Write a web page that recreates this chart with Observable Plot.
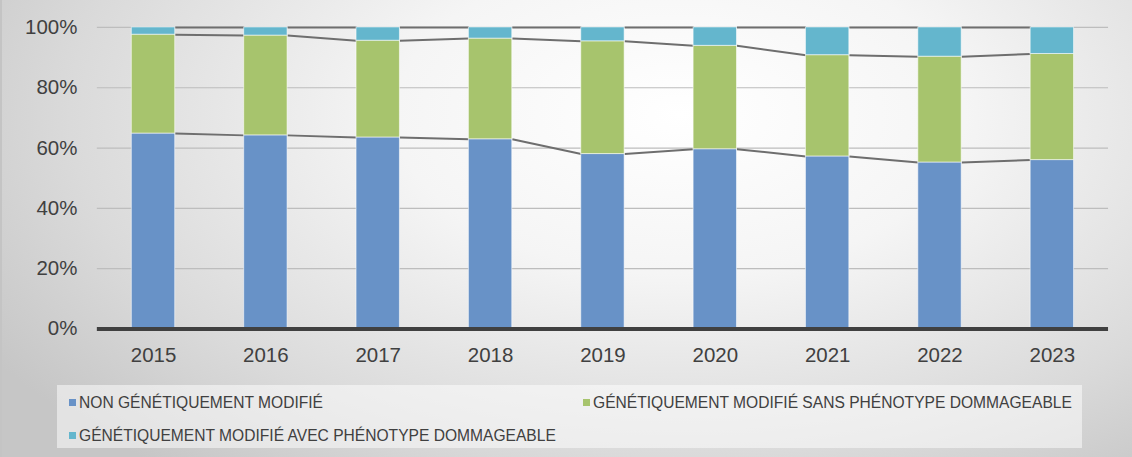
<!DOCTYPE html>
<html>
<head>
<meta charset="utf-8">
<script src="https://cdn.jsdelivr.net/npm/d3@7"></script>
<script src="https://cdn.jsdelivr.net/npm/@observablehq/plot@0.6"></script>
<style>
  html, body { margin: 0; padding: 0; }
  #wrap {
    position: relative; width: 1132px; height: 457px; overflow: hidden;
    background: radial-gradient(ellipse 72% 100% at 60% 25%, #ffffff 0%, #f5f5f5 35%, #dadada 75%, #c6c6c6 100%);
    font-family: "Liberation Sans", Arial, sans-serif;
    box-sizing: border-box; border-left: 2px solid #c4c4c4;
  }
  #chart { position: absolute; left: 0; top: 0; }
  #legend {
    position: absolute; left: 55px; top: 385px; width: 1025px; height: 63px;
    background: rgba(255,255,255,0.5);
  }
  .item { position: absolute; font-size: 15.6px; color: #404040; white-space: nowrap; line-height: 18px; }
  .sw { display: inline-block; width: 7px; height: 7px; margin-right: 3px; vertical-align: 2px; }
</style>
</head>
<body>
<div id="wrap">
  <div id="chart"></div>
  <div id="legend"></div>
</div>
<script>
const years = [2015, 2016, 2017, 2018, 2019, 2020, 2021, 2022, 2023];
const seriesNames = [
  "NON GÉNÉTIQUEMENT MODIFIÉ",
  "GÉNÉTIQUEMENT MODIFIÉ SANS PHÉNOTYPE DOMMAGEABLE",
  "GÉNÉTIQUEMENT MODIFIÉ AVEC PHÉNOTYPE DOMMAGEABLE"
];
const nonGM = [64.8, 64.2, 63.5, 62.9, 58.0, 59.6, 57.2, 55.2, 56.0];
const gmSans = [32.8, 33.1, 32.1, 33.4, 37.4, 34.3, 33.6, 35.1, 35.2];
const gmAvec = [2.4, 2.7, 4.4, 3.7, 4.6, 6.1, 9.2, 9.7, 8.8];
const colors = ["#6892c7", "#a7c46d", "#64b6cd"];
const yTicks = [0, 20, 40, 60, 80, 100];

const half = 0.193;
const seriesVals = [nonGM, gmSans, gmAvec];
const rects = [];
const bounds = [[], [], []];
years.forEach((yr, i) => {
  let base = 0;
  seriesVals.forEach((vals, s) => {
    rects.push({year: yr, series: seriesNames[s], y1: base, y2: base + vals[i]});
    base += vals[i];
    bounds[s].push(base);
  });
});
const links = [];
for (let s = 0; s < 3; s++) {
  for (let i = 0; i < years.length - 1; i++) {
    links.push({x1: years[i] + half, x2: years[i + 1] - half, y1: bounds[s][i], y2: bounds[s][i + 1]});
  }
}

const plot = Plot.plot({
  width: 1132, height: 375,
  marginLeft: 95, marginRight: 24, marginTop: 27, marginBottom: 46,
  style: {background: "transparent", fontFamily: "'Liberation Sans', Arial, sans-serif", fontSize: "20.5px", color: "#404040"},
  x: {domain: [2014.5, 2023.5], axis: null},
  y: {domain: [0, 100], axis: null},
  color: {domain: seriesNames, range: colors},
  marks: [
    Plot.ruleY(yTicks.filter(d => d > 0), {stroke: "#bdbdbd", strokeWidth: 1.2}),
    Plot.link(links, {x1: "x1", x2: "x2", y1: "y1", y2: "y2", stroke: "#6e6e6e", strokeWidth: 2}),
    Plot.rect(rects, {x1: d => d.year - half, x2: d => d.year + half, y1: "y1", y2: "y2", fill: "series", stroke: "rgba(255,255,255,0.55)", strokeWidth: 1}),
    Plot.ruleY([0], {stroke: "#404040", strokeWidth: 4}),
    Plot.axisY({ticks: yTicks, tickSize: 0, tickPadding: 20, tickFormat: d => d + "%", fontSize: "20.5px"}),
    Plot.axisX({ticks: years, tickSize: 0, tickPadding: 19, tickFormat: d => String(d), fontSize: "20.5px"})
  ]
});
document.getElementById("chart").appendChild(plot);

const legend = document.getElementById("legend");
const pos = [[12, 9], [526, 9], [12, 42]];
seriesNames.forEach((name, i) => {
  const el = document.createElement("div");
  el.className = "item";
  el.style.left = pos[i][0] + "px";
  el.style.top = pos[i][1] + "px";
  el.innerHTML = `<span class="sw" style="background:${colors[i]}"></span>${name}`;
  legend.appendChild(el);
});
</script>
</body>
</html>
